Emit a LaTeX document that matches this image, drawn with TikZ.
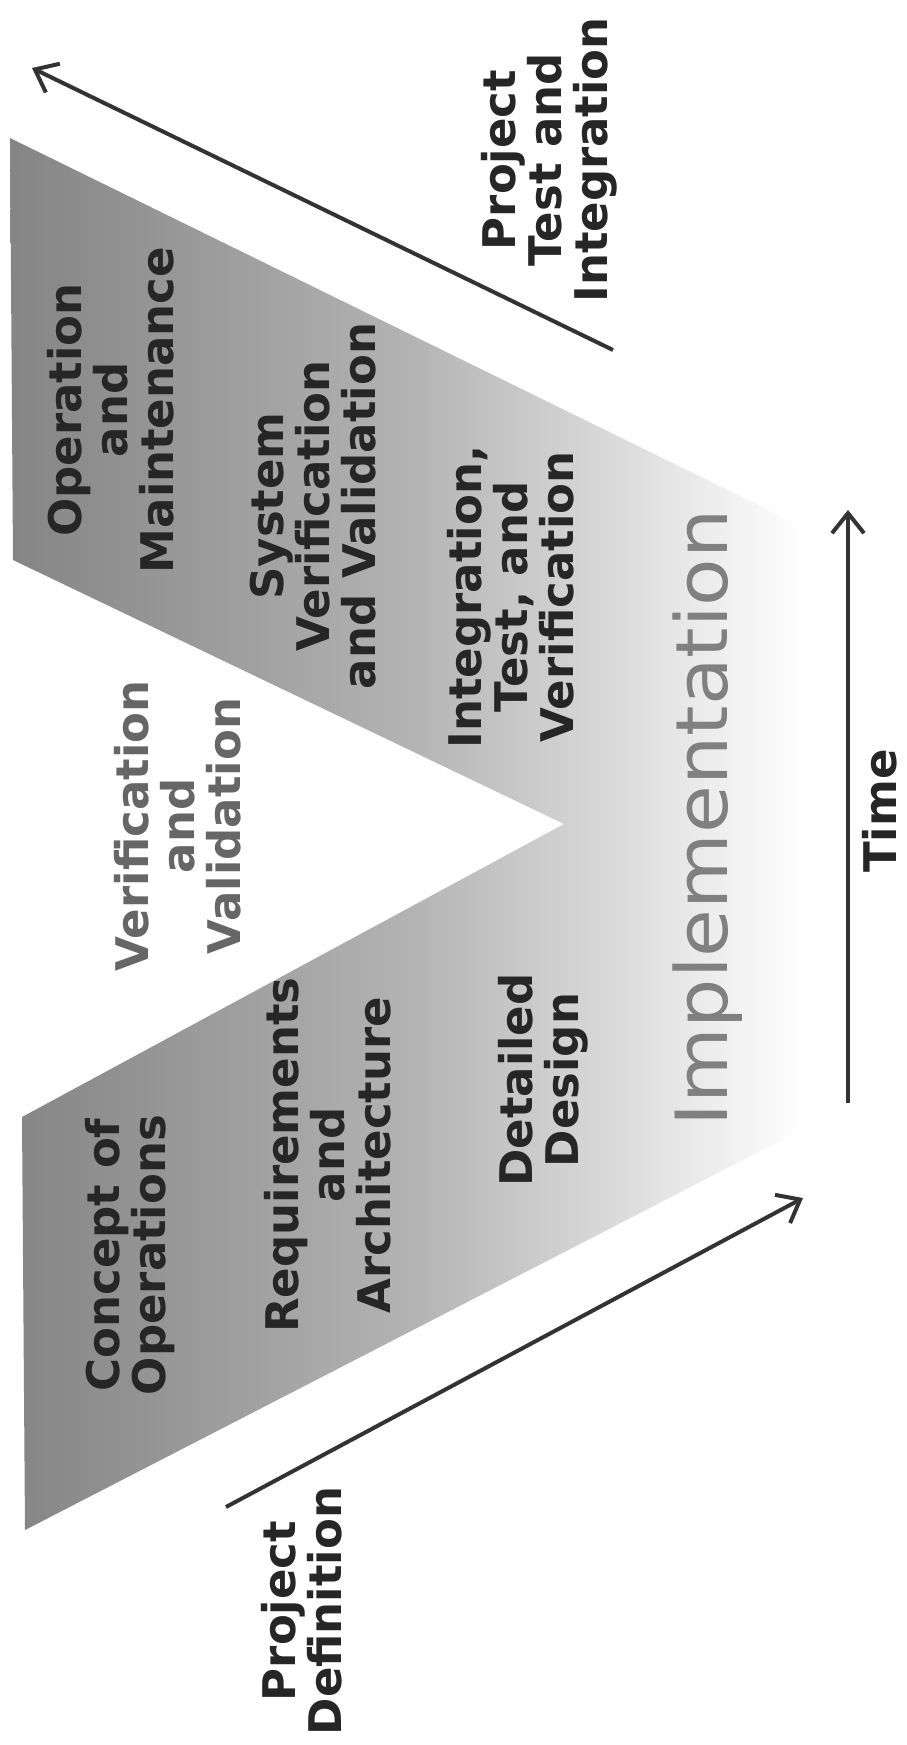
\documentclass[tikz,border=0pt]{standalone}
\usepackage{fontspec}
\setmainfont{DejaVu Sans}
\newfontfamily\implfont[FakeStretch=1.08]{DejaVu Sans}
\usetikzlibrary{arrows.meta}
\begin{document}
\begin{tikzpicture}[x=1pt,y=-1pt,
  lbl/.style={rotate=90, align=center, inner sep=0pt,
    font=\bfseries\fontsize{45}{46}\selectfont, text=black!85},
  faint/.style={lbl, text=black!60},
  impl/.style={rotate=90, inner sep=0pt,
    font=\implfont\fontsize{72}{72}\selectfont, text=black!50},
  arr/.style={line width=4pt, draw=black!80,
    -{Straight Barb[length=20pt,width=32pt,line width=4pt]}},
  vshape/.style={left color=black!48, right color=white, middle color=black!30}
]
\useasboundingbox (0,0) rectangle (907,1745);
\fill[white] (0,0) rectangle (907,1745);

% the V
\path[vshape] (10,138) -- (805,528) -- (805,1128) -- (25,1530) -- (22,1117)
  -- (564,824) -- (13,560) -- cycle;

% labels
\node[lbl] (pti) at (549,160) {Project\\Test and\\Integration};
\node[lbl] (om)  at (111,410) {Operation\\and\\Maintenance};
\node[lbl] (svv) at (313,506) {System\\Verification\\and Validation};
\node[lbl] (itv) at (511,597) {Integration,\\Test, and\\Verification};
\node[faint] (vv) at (178,826) {Verification\\and\\Validation};
\node[lbl] (coo) at (130,1255) {Concept of\\Operations};
\node[lbl] (ra)  at (328,1155) {Requirements\\and\\Architecture};
\node[lbl] (dd)  at (543,1080) {Detailed\\Design};
\node[impl] (imp) at (708,818) {Implementation};
\node[lbl] (time) at (880,811) {Time};
\node[lbl] (pd)  at (302,1611) {Project\\Definition};

% arrows
\coordinate (ptiS) at (613,350);
\coordinate (ptiE) at (32,68);
\coordinate (pdS) at (226,1507);
\coordinate (pdE) at (803,1198);
\coordinate (tS) at (848,1103);
\coordinate (tE) at (848,510);
\draw[arr] (ptiS) -- (ptiE);
\draw[arr] (pdS) -- (pdE);
\draw[arr] (tS) -- (tE);
\end{tikzpicture}
\end{document}
